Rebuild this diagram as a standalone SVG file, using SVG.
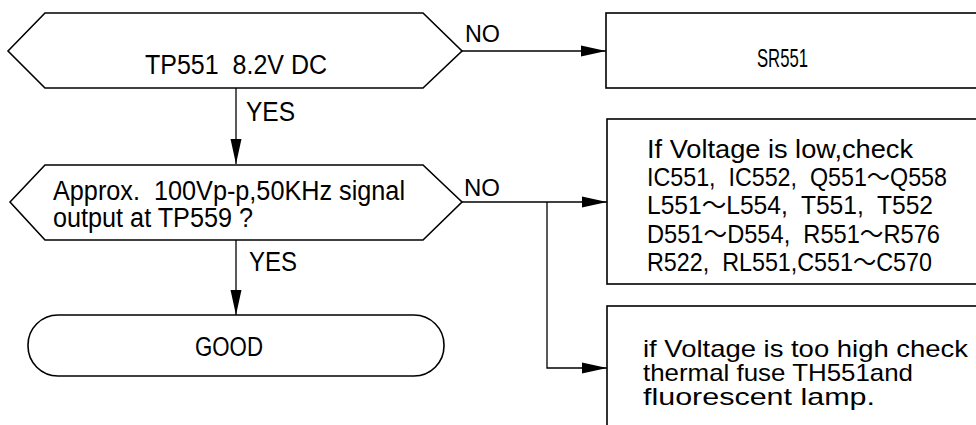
<svg xmlns="http://www.w3.org/2000/svg" width="976" height="425" viewBox="0 0 976 425">
<style>
.shape{fill:#fff;stroke:#000;stroke-width:1.6}
.conn{fill:none;stroke:#000;stroke-width:1.3}
text{font-family:"Liberation Sans","Noto Sans CJK JP",sans-serif;fill:#000;white-space:pre}
.t{font-size:27px}
.m{font-size:25px}
.b{font-size:24px}
.s{font-size:24px}
</style>
<defs>
<marker id="arr" markerUnits="userSpaceOnUse" markerWidth="26" markerHeight="12" refX="25" refY="6" orient="auto">
<path d="M0,0.5 L25,6 L0,11.5 z" fill="#000"/>
</marker>
</defs>
<rect width="976" height="425" fill="#fff"/>
<g id="connectors">
<line class="conn" x1="462" y1="51" x2="606" y2="51" marker-end="url(#arr)"/>
<line class="conn" x1="236" y1="88" x2="236" y2="164" marker-end="url(#arr)"/>
<line class="conn" x1="462" y1="202" x2="607" y2="202" marker-end="url(#arr)"/>
<polyline class="conn" points="547,202 547,368 607,368" marker-end="url(#arr)"/>
<line class="conn" x1="236" y1="240" x2="236" y2="315" marker-end="url(#arr)"/>
<text class="s" x="465" y="42" textLength="35" lengthAdjust="spacingAndGlyphs">NO</text>
<text class="t" x="246" y="121" textLength="49" lengthAdjust="spacingAndGlyphs">YES</text>
<text class="s" x="464" y="196" textLength="36" lengthAdjust="spacingAndGlyphs">NO</text>
<text class="t" x="249" y="271" textLength="48" lengthAdjust="spacingAndGlyphs">YES</text>
</g>
<g id="q1">
<polygon class="shape" points="8,51 45,13 423,13 462,51 423,88 45,88"/>
<text class="t" x="145" y="74" textLength="182" lengthAdjust="spacingAndGlyphs">TP551  8.2V DC</text>
</g>
<g id="q2">
<polygon class="shape" points="10,202 45,165 423,165 462,202 423,240 45,240"/>
<text class="t" x="53" y="200" textLength="352" lengthAdjust="spacingAndGlyphs">Approx.  100Vp-p,50KHz signal</text>
<text class="t" x="53" y="227" textLength="200" lengthAdjust="spacingAndGlyphs">output at TP559 ?</text>
</g>
<g id="good">
<rect class="shape" x="28" y="315" width="416" height="61" rx="30" ry="30"/>
<text class="t" x="195" y="356" textLength="68" lengthAdjust="spacingAndGlyphs">GOOD</text>
</g>
<g id="sr551">
<rect class="shape" x="606" y="13" width="400" height="75"/>
<text class="m" x="757" y="67" textLength="51" lengthAdjust="spacingAndGlyphs">SR551</text>
</g>
<g id="low">
<rect class="shape" x="607" y="119" width="400" height="165"/>
<text class="m" x="647" y="158" textLength="266" lengthAdjust="spacingAndGlyphs">If Voltage is low,check</text>
<text class="m" x="647" y="186" textLength="300" lengthAdjust="spacingAndGlyphs">IC551,  IC552,  Q551〜Q558</text>
<text class="m" x="647" y="214" textLength="286" lengthAdjust="spacingAndGlyphs">L551〜L554,  T551,  T552</text>
<text class="m" x="647" y="243" textLength="293" lengthAdjust="spacingAndGlyphs">D551〜D554,  R551〜R576</text>
<text class="m" x="647" y="271" textLength="285" lengthAdjust="spacingAndGlyphs">R522,  RL551,C551〜C570</text>
</g>
<g id="high">
<rect class="shape" x="607" y="306" width="400" height="140"/>
<text class="b" x="643" y="357" textLength="325" lengthAdjust="spacingAndGlyphs">if Voltage is too high check</text>
<text class="b" x="643" y="381" textLength="270" lengthAdjust="spacingAndGlyphs">thermal fuse TH551and</text>
<text class="b" x="643" y="405" textLength="232" lengthAdjust="spacingAndGlyphs">fluorescent lamp.</text>
</g>
</svg>
